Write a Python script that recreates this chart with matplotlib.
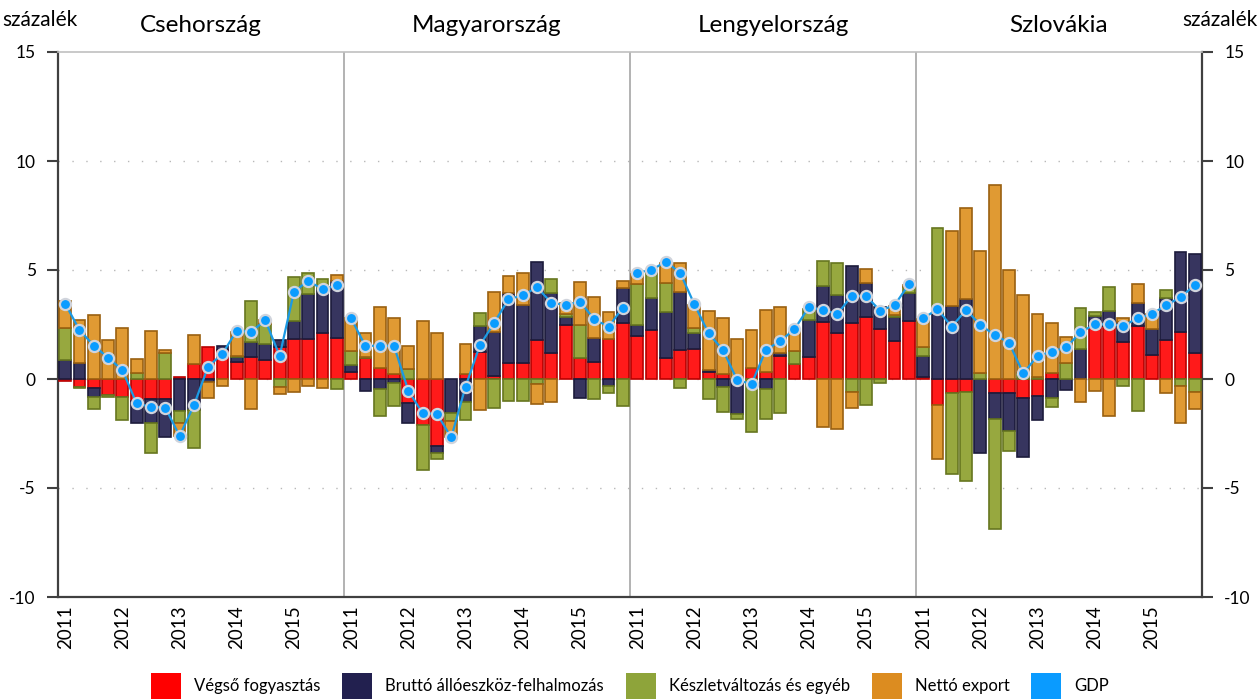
import matplotlib
matplotlib.use("Agg")
import matplotlib.pyplot as plt
import numpy as np
from matplotlib.patches import Patch

plt.rcParams['font.family'] = ['Lato', 'DejaVu Sans']
plt.rcParams['axes.unicode_minus'] = False

countries = ['Csehország', 'Magyarország', 'Lengyelország', 'Szlovákia']
years = ['2011', '2012', '2013', '2014', '2015']

# quarterly contributions, 20 values per country (CZ, HU, PL, SK)
fogyasztas = [
    -0.1, -0.35, -0.43, -0.73, -0.81, -1.0, -0.93, -0.93, 0.08, 0.67,
    1.48, 1.33, 0.76, 1.02, 0.87, 1.48, 1.82, 1.82, 2.09, 1.87,
    0.3, 0.95, 0.52, 0.21, -1.12, -2.11, -3.06, 0, 0.21, 1.25,
    0.15, 0.75, 0.75, 1.79, 1.21, 2.48, 0.95, 0.8, 1.82, 2.58,
    1.99, 2.25, 0.95, 1.33, 1.36, 0.34, 0.21, 0, 0.49, 0.31,
    1.06, 0.67, 1.02, 2.63, 2.09, 2.55, 2.83, 2.28, 1.76, 2.68,
    0.08, -1.19, -0.66, -0.58, 0, -0.66, -0.66, -0.89, -0.78, 0.29,
    0, 0, 2.43, 2.43, 1.71, 2.43, 1.1, 1.79, 2.17, 1.21,
]
beruhazas = [
    0.87, 0.75, -0.41, 0, 0, -1.0, -1.07, -1.71, -1.47, -1.42,
    -0.15, 0.2, 0.23, 0.66, 0.73, 0.31, 0.84, 2.06, 2.06, 2.63,
    0.34, -0.55, -0.47, -0.2, -0.92, 0, -0.32, -1.57, -1.04, 1.18,
    2.02, 3.18, 2.65, 3.59, 2.72, 0.38, -0.86, 1.1, -0.32, 1.61,
    0.49, 1.45, 2.14, 2.68, 0.76, 0.08, -0.35, -1.61, 0, -0.47,
    0.12, 0, 1.68, 1.64, 1.76, 2.63, 1.56, 1.04, 1.07, 1.25,
    0.96, 3.01, 3.36, 3.67, -3.38, -1.19, -1.73, -2.68, -1.1, -0.89,
    -0.5, 1.36, 0.47, 0.7, 0.92, 1.07, 1.18, 1.91, 3.67, 4.53,
]
keszlet = [
    1.45, -0.08, -0.54, -0.08, -1.07, 0.26, -1.41, 1.18, -0.57, -1.73,
    0, 0, 0.08, 1.91, 0.92, -0.35, 2.03, 0.96, 0.43, -0.46,
    0.64, 0.08, -1.25, -1.04, 0.48, -2.06, -0.31, -0.34, -0.84, 0.61,
    -1.35, -1.01, -0.99, -0.23, 0.64, 0.11, 1.53, -0.93, -0.31, -1.22,
    1.87, 1.15, 1.3, -0.4, 0.24, -0.93, -1.15, -0.23, -2.45, -1.36,
    -1.54, 0.61, 0.5, 1.12, 1.45, -0.58, -1.19, -0.2, 0.1, 0.3,
    0.41, 3.9, -3.7, -4.08, 0.29, -5.03, -0.9, 0.29, 0.08, -0.41,
    0.73, 1.88, 0.18, 1.1, -0.31, -1.47, 0, 0.38, -0.32, -0.58,
]
netto_export = [
    1.27, 1.96, 2.94, 1.79, 2.32, 0.66, 2.2, 0.15, -0.58, 1.35,
    -0.7, -0.3, 1.1, -1.38, 0.18, -0.34, -0.61, -0.31, -0.43, 0.28,
    1.5, 1.07, 2.8, 2.6, 1.02, 2.66, 2.1, -0.73, 1.38, -1.42,
    1.8, 0.81, 1.48, -0.92, -1.04, 0.5, 1.99, 1.85, 1.27, 0.32,
    0.47, 0.1, 0.95, 1.33, 1.02, 2.68, 2.6, 1.82, 1.76, 2.86,
    2.14, 0.96, 0, -2.22, -2.31, -0.76, 0.64, 0, 0.43, 0.1,
    1.3, -2.48, 3.43, 4.19, 5.58, 8.9, 5.0, 3.56, 2.89, 2.26,
    1.18, -1.07, -0.55, -1.68, 0.18, 0.84, 0.69, -0.63, -1.68, -0.8,
]
gdp = [
    3.46, 2.25, 1.53, 0.98, 0.41, -1.12, -1.28, -1.31, -2.61, -1.21,
    0.57, 1.16, 2.22, 2.17, 2.69, 1.06, 4.0, 4.51, 4.11, 4.3,
    2.78, 1.51, 1.53, 1.51, -0.54, -1.57, -1.6, -2.68, -0.35, 1.54,
    2.58, 3.65, 3.85, 4.2, 3.5, 3.39, 3.55, 2.74, 2.4, 3.27,
    4.88, 5.0, 5.38, 4.88, 3.43, 2.09, 1.33, -0.05, -0.23, 1.33,
    1.74, 2.28, 3.29, 3.17, 2.98, 3.81, 3.81, 3.13, 3.39, 4.34,
    2.78, 3.2, 2.4, 3.17, 2.48, 2.02, 1.67, 0.26, 1.06, 1.25,
    1.45, 2.14, 2.51, 2.51, 2.45, 2.78, 2.98, 3.39, 3.75, 4.31,
]

labels = ['Végső fogyasztás', 'Bruttó állóeszköz-felhalmozás',
          'Készletváltozás és egyéb', 'Nettó export', 'GDP']

fig = plt.figure(figsize=(12.6, 7), dpi=100)
ax = fig.add_axes([58 / 1260, 1 - 597 / 700, (1202 - 58) / 1260, (597 - 52) / 700])

x = np.arange(len(gdp))
components = [
    (fogyasztas, '#ff1a1a', '#b80000'),
    (beruhazas, '#37355f', '#1c1b3c'),
    (keszlet, '#97a83f', '#66761f'),
    (netto_export, '#e09a33', '#9a6010'),
]
pos_bottom = np.zeros(len(x))
neg_bottom = np.zeros(len(x))
for vals, fc, ec in components:
    v = np.array(vals, dtype=float)
    pos = np.where(v > 0, v, 0)
    neg = np.where(v < 0, v, 0)
    m = pos > 0
    ax.bar(x[m], pos[m], bottom=pos_bottom[m], width=0.82, color=fc,
           edgecolor=ec, linewidth=1.2, zorder=3)
    m = neg < 0
    ax.bar(x[m], neg[m], bottom=neg_bottom[m], width=0.82, color=fc,
           edgecolor=ec, linewidth=1.2, zorder=3)
    pos_bottom += pos
    neg_bottom += neg

g = np.array(gdp)
for p in range(4):
    s = slice(20 * p, 20 * p + 20)
    ax.plot(x[s], g[s], color='#1b9ae4', lw=1.6, marker='o', ms=8,
            mfc='#0a9cff', mec='#d0d4dc', mew=1.6, zorder=5)

for y in [-5, 0, 5, 10]:
    ax.axhline(y, color='#b8b8b8', lw=1, linestyle=(0, (1, 9)), zorder=1)
for xv in [19.5, 39.5, 59.5]:
    ax.axvline(xv, color='#a6a6a6', lw=1.2, zorder=2)

ax.set_xlim(-0.5, 79.5)
ax.set_ylim(-10, 15)
ax.set_yticks([-10, -5, 0, 5, 10, 15])
ax.tick_params(axis='y', which='both', left=True, right=True, labelleft=True,
               labelright=True, direction='out', length=8, width=1.5,
               color='#404040', labelsize=12.5, pad=8)
ax.set_xticks(range(0, 80, 4))
ax.set_xticklabels(years * 4, rotation=90, fontsize=13.5)
ax.tick_params(axis='x', length=0, pad=6)

ax.spines['top'].set_color('#c0c0c0')
ax.spines['top'].set_linewidth(1.2)
for side in ['left', 'right', 'bottom']:
    ax.spines[side].set_color('#404040')
    ax.spines[side].set_linewidth(1.6)

for p, name in enumerate(countries):
    ax.text(20 * p + 9.5, 1.048, name, transform=ax.get_xaxis_transform(),
            ha='center', va='center', fontsize=17.5)

fig.text(2 / 1260, 1 - 20 / 700, 'százalék', ha='left', va='center', fontsize=15)
fig.text(1258 / 1260, 1 - 20 / 700, 'százalék', ha='right', va='center', fontsize=15)

legend_colors = ['#ff0000', '#22204f', '#8ea43a', '#dc8c20', '#0a9bff']
handles = [Patch(facecolor=c, edgecolor='none') for c in legend_colors]
fig.legend(handles, labels, loc='center', bbox_to_anchor=(0.5, 1 - 686 / 700),
           ncol=5, frameon=False, fontsize=12, handlelength=1.8,
           handleheight=2.0, handletextpad=0.8, columnspacing=1.3)

fig.savefig('out.png', dpi=100)
